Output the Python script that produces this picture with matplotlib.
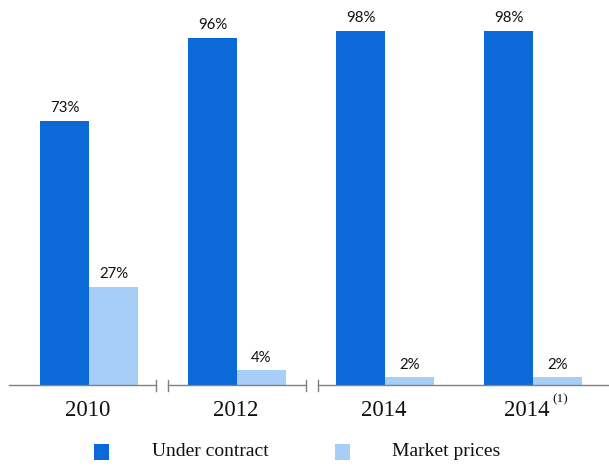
import matplotlib
matplotlib.use("Agg")
import matplotlib.pyplot as plt
from matplotlib.patches import Rectangle
from matplotlib.lines import Line2D

categories = ["2010", "2012", "2014", "2014"]
footnotes = ["", "", "", "(1)"]
under_contract = [73, 96, 98, 98]
market_prices = [27, 4, 2, 2]
series_names = ["Under contract", "Market prices"]

dark_blue = "#0B69D8"
light_blue = "#A7CEF7"
text_color = "#111111"

W, H = 609, 466
fig = plt.figure(figsize=(W / 100, H / 100), dpi=100)

# axes placement in pixels
px_per_unit = 148.0
first_center = 89.0
left_px, right_px = 9.0, 608.0
base_px, top_px = 384.5, 23.5
ax = fig.add_axes([left_px / W, (H - base_px) / H,
                   (right_px - left_px) / W, (base_px - top_px) / H])
ax.set_xlim(-(first_center - left_px) / px_per_unit,
            (right_px - first_center) / px_per_unit)
ax.set_ylim(0, 100)
px_per_pct = (base_px - top_px) / 100.0

bw = 49 / px_per_unit
x = list(range(len(categories)))
b1 = ax.bar([i - bw / 2 for i in x], under_contract, width=bw, color=dark_blue, linewidth=0)
b2 = ax.bar([i + bw / 2 for i in x], market_prices, width=bw, color=light_blue, linewidth=0)

for bars, vals in ((b1, under_contract), (b2, market_prices)):
    for rect, v in zip(bars, vals):
        ax.annotate(f"{v}%", (rect.get_x() + rect.get_width() / 2, v),
                    xytext=(0, 4), textcoords="offset points",
                    ha="center", va="bottom", fontsize=10.8,
                    family="Lato", color=text_color)

for s in ax.spines.values():
    s.set_visible(False)
ax.set_xticks([])
ax.set_yticks([])

# broken baseline
axis_color = "#808080"
to_x = lambda p: (p - first_center) / px_per_unit
to_y = lambda p: (base_px - p) / px_per_pct
segments = [(left_px, 156), (168, 306), (318, right_px)]
for a, b in segments:
    ax.add_line(Line2D([to_x(a), to_x(b)], [to_y(385), to_y(385)],
                       color=axis_color, lw=1.0, clip_on=False))
for p in (156, 168, 306, 318):
    ax.add_line(Line2D([to_x(p)] * 2, [to_y(391), to_y(380)],
                       color=axis_color, lw=1.0, clip_on=False))

# category labels
for i, (c, f) in enumerate(zip(categories, footnotes)):
    if f:
        ax.text(to_x(527), to_y(410), c, ha="center", va="center",
                fontsize=16.5, family="Liberation Serif", color=text_color)
        ax.text(to_x(552), to_y(399), f, ha="left", va="center",
                fontsize=9.5, family="Liberation Serif", color=text_color)
    else:
        ax.text(i - 1.5 / px_per_unit, to_y(410), c, ha="center", va="center",
                fontsize=16.5, family="Liberation Serif", color=text_color)

# legend
def fig_rect(x0, y0, w, h, color):
    fig.add_artist(Rectangle((x0 / W, 1 - (y0 + h) / H), w / W, h / H,
                             transform=fig.transFigure, color=color, lw=0))

fig_rect(94, 444, 15, 16, dark_blue)
fig_rect(335, 444, 15, 16, light_blue)
fig.text(152 / W, 1 - 452 / H, series_names[0], ha="left", va="center",
         fontsize=14, family="Liberation Serif", color=text_color)
fig.text(392 / W, 1 - 452 / H, series_names[1], ha="left", va="center",
         fontsize=14, family="Liberation Serif", color=text_color)

fig.savefig("out.png", dpi=100)
